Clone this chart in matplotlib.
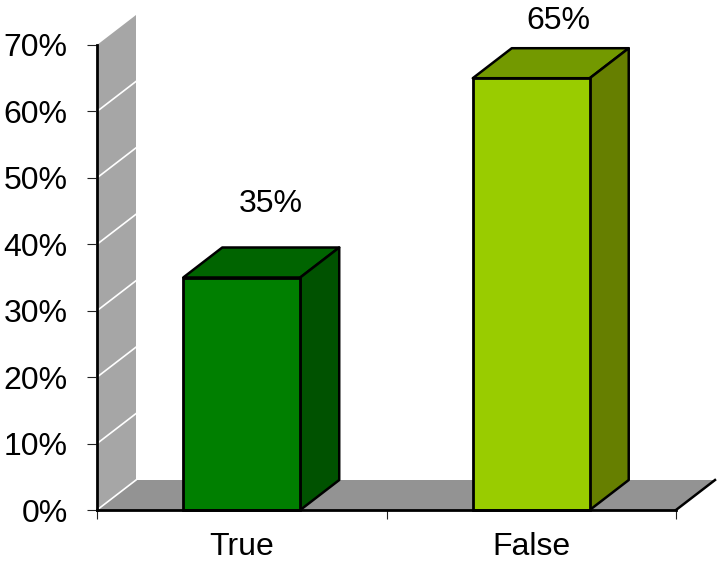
import matplotlib
matplotlib.use("Agg")
import matplotlib.pyplot as plt
from matplotlib.patches import Polygon

plt.rcParams['font.family'] = ['Liberation Sans', 'DejaVu Sans']

categories = ["True", "False"]
values = [35, 65]
yticks = [0, 10, 20, 30, 40, 50, 60, 70]
ytick_labels = ["0%", "10%", "20%", "30%", "40%", "50%", "60%", "70%"]

front_colors = ["#007f00", "#99cc00"]
top_colors = ["#006400", "#739900"]
side_colors = ["#005200", "#667f00"]
# label offset from the top of each bar, in pixels
label_offsets = [(29, 73), (27, 57)]

W, H = 719, 563
fig = plt.figure(figsize=(W / 100, H / 100), dpi=100)
# axes box taken from the pixel positions of the axis lines
ax = fig.add_axes([97 / W, 1 - 510 / H, (676 - 97) / W, (510 - 45) / H])
ax.set_xlim(0, 2)
ax.set_ylim(0, 70)

# depth of the fake 3d, in data units
dx = 39 / (579 / 2)
dy = 30 / (465 / 70)
bar_width = 0.404

# side wall and floor
ax.add_patch(Polygon([(0, 0), (dx, dy), (dx, 70 + dy), (0, 70)], fc="#a6a6a6", ec="none", clip_on=False, zorder=1))
ax.add_patch(Polygon([(0, 0), (dx, dy), (2 + dx, dy), (2, 0)], fc="#939393", ec="none", clip_on=False, zorder=1))
ax.plot([2, 2 + dx], [0, dy], color="black", lw=1.8, clip_on=False, zorder=2)

# white gridlines on the wall
for t in yticks[:-1]:
    ax.plot([0, dx], [t, t + dy], color="white", lw=1.2, clip_on=False, zorder=2)

x = [0.5, 1.5]
ax.bar(x, values, width=bar_width, color=front_colors, edgecolor="black", linewidth=2, zorder=4, clip_on=False)

for i in range(2):
    l = x[i] - bar_width / 2
    r = x[i] + bar_width / 2
    v = values[i]
    ax.add_patch(Polygon([(l, v), (l + dx, v + dy), (r + dx, v + dy), (r, v)], fc=top_colors[i],
                         ec="black", lw=1.8, joinstyle="round", clip_on=False, zorder=3))
    ax.add_patch(Polygon([(r, 0), (r + dx, dy), (r + dx, v + dy), (r, v)], fc=side_colors[i],
                         ec="black", lw=1.8, joinstyle="round", clip_on=False, zorder=3))
    ax.annotate("%d%%" % v, (x[i], v), xytext=(label_offsets[i][0] * 0.72, label_offsets[i][1] * 0.72),
                textcoords="offset points", ha="center", va="center", fontsize=23, color="black")

for s in ["top", "right"]:
    ax.spines[s].set_visible(False)
ax.spines["left"].set_linewidth(2)
ax.spines["bottom"].set_linewidth(2)
ax.spines["left"].set_zorder(5)
ax.spines["bottom"].set_zorder(5)

ax.set_yticks(yticks)
ax.set_yticklabels(ytick_labels, fontsize=23)
ax.tick_params(axis="y", length=7.2, width=0.8, color="#222222", pad=14)

# category ticks sit between the bars, labels stay on the bar centres
ax.set_xticks([0, 1, 2])
ax.set_xticklabels([])
ax.set_xticks(x, minor=True)
ax.set_xticklabels(categories, minor=True, fontsize=23)
ax.tick_params(axis="x", which="major", length=6.5, width=0.8, color="#222222")
ax.tick_params(axis="x", which="minor", length=0, pad=16)

fig.savefig("out.png", dpi=100)
